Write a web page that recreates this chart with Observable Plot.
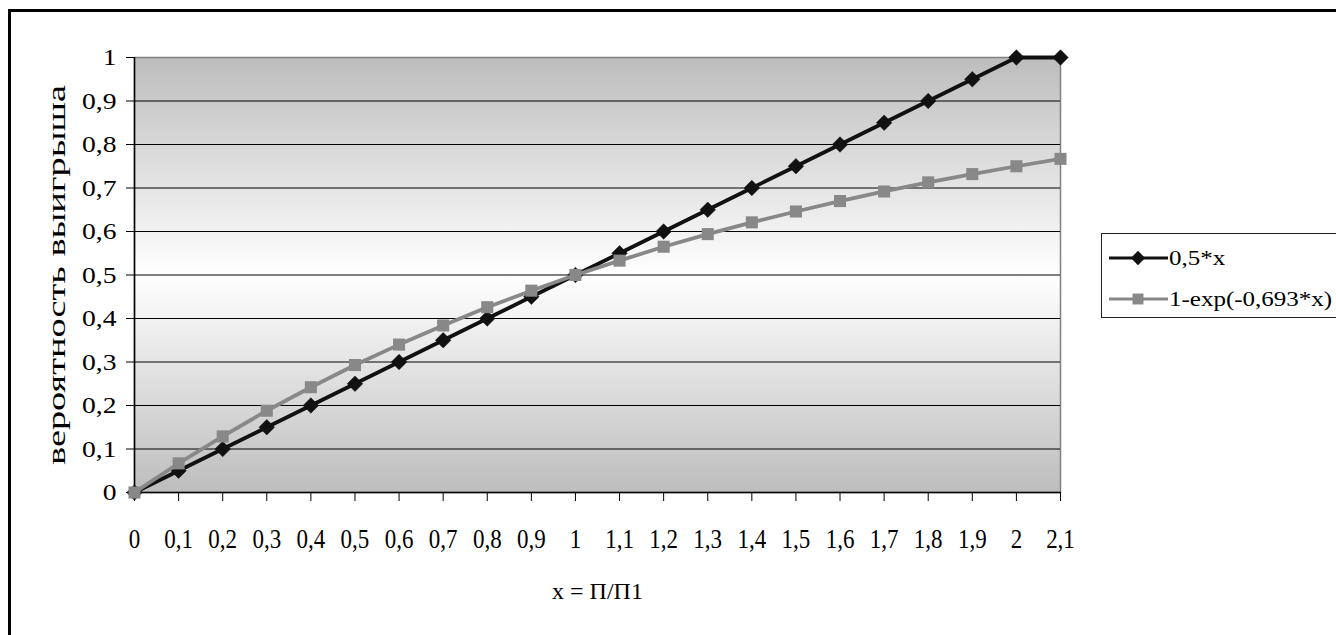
<!DOCTYPE html>
<html><head><meta charset="utf-8">
<script src="https://cdn.jsdelivr.net/npm/d3@7"></script>
<script src="https://cdn.jsdelivr.net/npm/@observablehq/plot@0.6"></script>
<style>
body{margin:0;background:#fff;}
#wrap{position:relative;width:1336px;height:635px;overflow:hidden;font-family:"Liberation Serif","Times New Roman",serif;background:#fff;}
#frame{position:absolute;left:8px;top:9px;width:1400px;height:700px;border:3px solid #000;pointer-events:none;z-index:2;}
#legend{position:absolute;left:1101px;top:233px;width:300px;height:83px;border:1px solid #222;background:#fff;z-index:3;}
#legend .item{position:absolute;left:6px;height:24px;display:flex;align-items:center;}
#legend .item span{font-size:20px;color:#000;transform:scaleX(1.25);transform-origin:left center;white-space:nowrap;margin-left:1px;}
</style></head>
<body>
<div id="wrap"><div id="frame"></div><div id="legend"></div></div>
<script>
const xs = [0,0.1,0.2,0.3,0.4,0.5,0.6,0.7,0.8,0.9,1,1.1,1.2,1.3,1.4,1.5,1.6,1.7,1.8,1.9,2,2.1];
const series1 = [0,0.05,0.1,0.15,0.2,0.25,0.3,0.35,0.4,0.45,0.5,0.55,0.6,0.65,0.7,0.75,0.8,0.85,0.9,0.95,1,1];
const series2 = [0,0.067,0.129,0.188,0.242,0.293,0.34,0.384,0.426,0.464,0.5,0.533,0.565,0.594,0.621,0.646,0.67,0.692,0.713,0.732,0.75,0.767];
const yTicks = [0,0.1,0.2,0.3,0.4,0.5,0.6,0.7,0.8,0.9,1];
const seriesNames = ["0,5*x","1-exp(-0,693*x)"];
const yTitle = "вероятность выигрыша";
const xTitle = "x = П/П1";

const c1 = "#111111", c2 = "#888888";
const d1 = xs.map((x,i)=>({x, y: series1[i]}));
const d2 = xs.map((x,i)=>({x, y: series2[i]}));
const fmt = d => (+(+d).toFixed(1)).toString().replace(".", ",");

const svg = Plot.plot({
  width: 1336, height: 635,
  marginLeft: 134, marginRight: 276, marginTop: 57, marginBottom: 143,
  style: {fontFamily: '"Liberation Serif","Times New Roman",serif', color: "#000", background: "transparent"},
  x: {domain: [0, 2.1], label: null},
  y: {domain: [0, 1], label: null},
  marks: [
    Plot.frame({fill: "url(#bg)", stroke: "#808080", strokeWidth: 1.5}),
    Plot.gridY(yTicks.slice(1, -1), {stroke: "#000", strokeOpacity: 1, strokeWidth: 1}),
    Plot.ruleX([0], {stroke: "#000", strokeWidth: 1.5}),
    Plot.ruleY([0], {stroke: "#000", strokeWidth: 1.5}),
    Plot.axisY(yTicks, {tickSize: 8, tickPadding: 10, tickFormat: fmt, fontSize: 24, label: null, stroke: "#000"}),
    Plot.axisX(xs, {tickSize: 9, tickPadding: 27, tickFormat: fmt, fontSize: 23, label: null, stroke: "#000"}),
    Plot.text([yTitle], {frameAnchor: "left", dx: -78, dy: 190, rotate: -90, textAnchor: "start", fontSize: 26, fill: "#000"}),
    Plot.text([xTitle], {frameAnchor: "bottom", dy: 106, fontSize: 24, fill: "#000"}),
    Plot.line(d1, {x: "x", y: "y", stroke: c1, strokeWidth: 3.8}),
    Plot.dot(d1, {x: "x", y: "y", symbol: "diamond2", r: 7, fill: c1, stroke: c1, strokeWidth: 0.5}),
    Plot.line(d2, {x: "x", y: "y", stroke: c2, strokeWidth: 3.8}),
    Plot.dot(d2, {x: "x", y: "y", symbol: "square", r: 6.8, fill: c2, stroke: "none"})
  ]
});
svg.style.position = "absolute"; svg.style.left = "0"; svg.style.top = "0";

// gradient background
const defs = d3.select(svg).insert("defs", ":first-child");
const g = defs.append("linearGradient").attr("id", "bg").attr("x1", 0).attr("y1", 0).attr("x2", 0).attr("y2", 1);
g.append("stop").attr("offset", "0%").attr("stop-color", "#bdbdbd");
g.append("stop").attr("offset", "50%").attr("stop-color", "#ffffff");
g.append("stop").attr("offset", "100%").attr("stop-color", "#bdbdbd");

function stretch(sel, sx, sy) {
  svg.querySelectorAll(sel).forEach(t => {
    let tr = t.getAttribute("transform");
    if (!tr) {
      const x = t.getAttribute("x") || "0", y = t.getAttribute("y") || "0";
      if (!/em/.test(x) && !/em/.test(y)) { tr = `translate(${x},${y})`; t.removeAttribute("x"); t.removeAttribute("y"); }
      else tr = "";
    }
    t.setAttribute("transform", tr + ` scale(${sx},${sy})`);
  });
}
stretch('g[aria-label="y-axis tick label"] text', 1.15, 1);
stretch('g[aria-label="x-axis tick label"] text', 1, 1.22);
svg.querySelectorAll("text").forEach(t => {
  if (t.textContent === yTitle) { t.setAttribute("textLength", 380); t.setAttribute("lengthAdjust", "spacingAndGlyphs"); }
});

const wrap = document.getElementById("wrap");
wrap.insertBefore(svg, wrap.firstChild);

// legend
const legend = d3.select("#legend");
const symbols = [d3.symbolDiamond2, d3.symbolSquare];
const sizes = [130, 120];
const colors = [c1, c2];
const tops = [12, 53];
seriesNames.forEach((name, i) => {
  const item = legend.append("div").attr("class", "item").style("top", tops[i] + "px");
  const s = item.append("svg").attr("width", 60).attr("height", 24);
  s.append("line").attr("x1", 1).attr("x2", 60).attr("y1", 12).attr("y2", 12).attr("stroke", colors[i]).attr("stroke-width", 3);
  s.append("path").attr("transform", "translate(30,12)").attr("d", d3.symbol(symbols[i], sizes[i])()).attr("fill", colors[i]);
  item.append("span").text(name);
});
</script>
</body></html>
